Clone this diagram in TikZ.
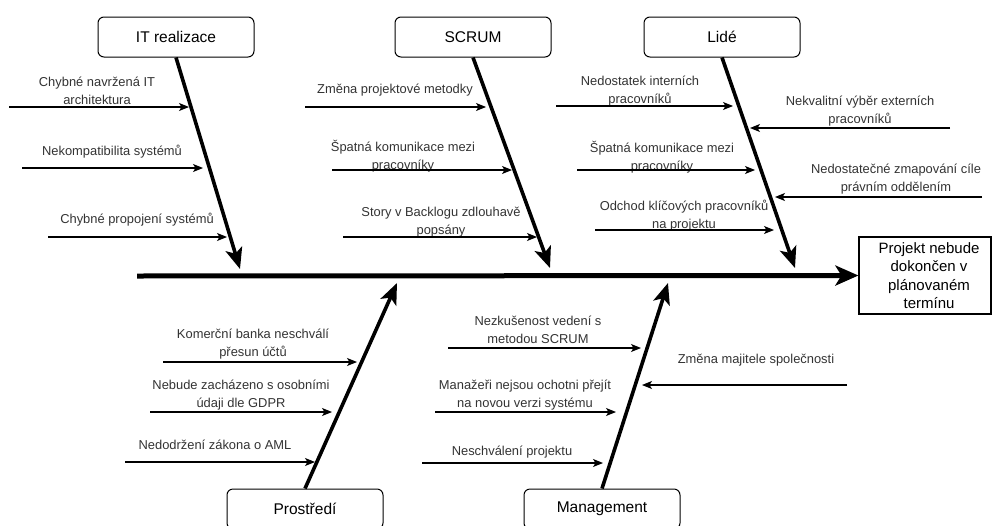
\documentclass[tikz,border=0pt]{standalone}
\usepackage{fontspec}
\setmainfont{Liberation Sans}
\usetikzlibrary{shapes,arrows.meta}

\begin{document}
\begin{tikzpicture}[x=1pt,y=-1pt]
 % style des noeuds
  \tikzstyle{categorie}=[rectangle,draw,rounded corners=6pt,line width=1pt,minimum width=156pt,minimum height=40pt,font=\fontsize{15.5}{18}\selectfont]
  \tikzstyle{effet}=[rectangle,draw,line width=1.2pt,minimum width=132pt,minimum height=77pt,align=center,font=\fontsize{15}{18.5}\selectfont]
  \tikzstyle{cause}=[align=center,inner sep=0pt,text=black!80,font=\fontsize{12.9}{18}\selectfont]
 % style des fleches
  \tikzstyle{colonne}=[-{Stealth[length=23pt,width=20pt,inset=6pt]},line width=5pt]
  \tikzstyle{arete}=[-{Stealth[length=21pt,width=17pt,inset=5pt]},line width=3.6pt]
  \tikzstyle{fleche}=[-{Stealth[length=10pt,width=8pt,inset=2.5pt]},line width=1.1pt]
  \useasboundingbox (0,0) rectangle (993,525);
 % placement des noeuds
  \node[categorie] (it) at (176,37) {IT realizace};
  \node[categorie] (scrum) at (473,37) {SCRUM};
  \node[categorie] (lide) at (722,37) {Lidé};
  \node[categorie] (prostredi) at (305,509) {Prostředí};
  \node[categorie] (management) at (602,509) {Management};
  \node[effet] (projekt) at (925,275.5) {\hspace*{8pt}Projekt nebude\\\hspace*{8pt}dokončen v\\\hspace*{8pt}plánovaném\\\hspace*{8pt}termínu};
  \coordinate (queue) at (137,276);
  \coordinate (tit) at (240,269);
  \coordinate (tscrum) at (550,268);
  \coordinate (tlide) at (795,268);
  \coordinate (tprostredi) at (397,283);
  \coordinate (tmanagement) at (668,283);
 % causes
  \node[cause] (ci1) at (97,91) {Chybné navržená IT\\architektura};
  \node[cause] (ci2) at (112,152) {Nekompatibilita systémů};
  \node[cause] (ci3) at (137,220) {Chybné propojení systémů};
  \node[cause] (cs1) at (395,90) {Změna projektové metodky};
  \node[cause] (cs2) at (403,156) {Špatná komunikace mezi\\pracovníky};
  \node[cause] (cs3) at (441,222) {Story v Backlogu zdlouhavě\\popsány};
  \node[cause] (cl1) at (640,91) {Nedostatek interních\\pracovníků};
  \node[cause] (cl2) at (662,157) {Špatná komunikace mezi\\pracovníky};
  \node[cause] (cl3) at (684,216) {Odchod klíčových pracovníků\\na projektu};
  \node[cause] (cl4) at (860,111) {Nekvalitní výběr externích\\pracovníků};
  \node[cause] (cl5) at (896,179) {Nedostatečné zmapování cíle\\právním oddělením};
  \node[cause] (cp1) at (253,344) {Komerční banka neschválí\\přesun účtů};
  \node[cause] (cp2) at (241,395) {Nebude zacházeno s osobními\\údaji dle GDPR};
  \node[cause] (cp3) at (215,445) {Nedodržení zákona o AML};
  \node[cause] (cm1) at (538,330) {Nezkušenost vedení s\\metodou SCRUM};
  \node[cause] (cm2) at (525,395) {Manažeři nejsou ochotni přejít\\na novou verzi systému};
  \node[cause] (cm3) at (512,452) {Neschválení projektu};
  \node[cause] (cm4) at (756,360) {Změna majitele společnosti};
 % extremites des fleches
  \coordinate (i1) at (9,107);    \coordinate (i1e) at (189,107);
  \coordinate (i2) at (22,168);   \coordinate (i2e) at (203,168);
  \coordinate (i3) at (48,237);   \coordinate (i3e) at (227,237);
  \coordinate (s1) at (305,107);  \coordinate (s1e) at (486,107);
  \coordinate (s2) at (332,170);  \coordinate (s2e) at (512,170);
  \coordinate (s3) at (343,237);  \coordinate (s3e) at (537,237);
  \coordinate (l1) at (556,106);  \coordinate (l1e) at (733,106);
  \coordinate (l2) at (577,170);  \coordinate (l2e) at (755,170);
  \coordinate (l3) at (595,230);  \coordinate (l3e) at (774,230);
  \coordinate (l4) at (950,128);  \coordinate (l4e) at (750,128);
  \coordinate (l5) at (982,197);  \coordinate (l5e) at (775,197);
  \coordinate (p1) at (163,362);  \coordinate (p1e) at (357,362);
  \coordinate (p2) at (150,412);  \coordinate (p2e) at (332,412);
  \coordinate (p3) at (125,462);  \coordinate (p3e) at (315,462);
  \coordinate (m1) at (448,348);  \coordinate (m1e) at (641,348);
  \coordinate (m2) at (435,412);  \coordinate (m2e) at (616,412);
  \coordinate (m3) at (422,463);  \coordinate (m3e) at (603,463);
  \coordinate (m4) at (847,385);  \coordinate (m4e) at (642,385);
 % placement des fleches
  \draw[colonne] (queue) -- (projekt.west);
  \draw[arete] (it.south) -- (tit);
  \draw[arete] (scrum.south) -- (tscrum);
  \draw[arete] (lide.south) -- (tlide);
  \draw[arete] (prostredi.north) -- (tprostredi);
  \draw[arete] (management.north) -- (tmanagement);
  \draw[fleche] (i1) -- (i1e);
  \draw[fleche] (i2) -- (i2e);
  \draw[fleche] (i3) -- (i3e);
  \draw[fleche] (s1) -- (s1e);
  \draw[fleche] (s2) -- (s2e);
  \draw[fleche] (s3) -- (s3e);
  \draw[fleche] (l1) -- (l1e);
  \draw[fleche] (l2) -- (l2e);
  \draw[fleche] (l3) -- (l3e);
  \draw[fleche] (l4) -- (l4e);
  \draw[fleche] (l5) -- (l5e);
  \draw[fleche] (p1) -- (p1e);
  \draw[fleche] (p2) -- (p2e);
  \draw[fleche] (p3) -- (p3e);
  \draw[fleche] (m1) -- (m1e);
  \draw[fleche] (m2) -- (m2e);
  \draw[fleche] (m3) -- (m3e);
  \draw[fleche] (m4) -- (m4e);
\end{tikzpicture}
\end{document}
